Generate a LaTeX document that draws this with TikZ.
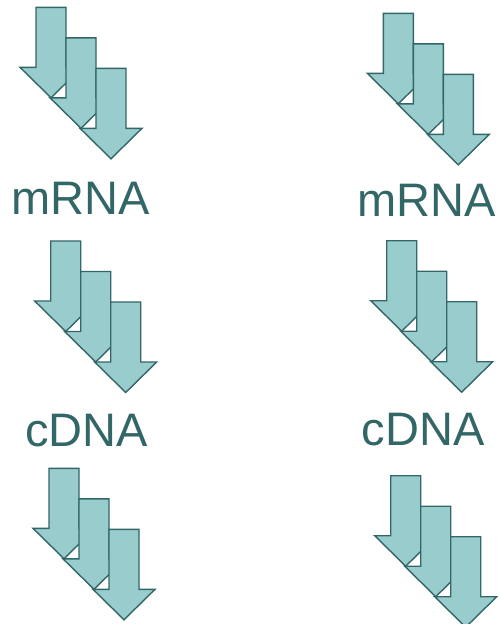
\documentclass[tikz,border=0pt]{standalone}
\usepackage{fontspec}
\setmainfont{Liberation Sans}
\definecolor{arrowfill}{RGB}{153,204,204}
\definecolor{arrowline}{RGB}{51,102,102}
\tikzset{
  downarrow/.style={fill=arrowfill, draw=arrowline, line width=1.4pt, line join=miter},
  label/.style={text=arrowline, font=\fontsize{47}{56}\selectfont, inner sep=0pt, anchor=base}
}
\newcommand{\arrowtrio}[2]{%
  \foreach \n in {0,1,2} {%
    \path[downarrow] ({#1+30*\n},{#2+30.5*\n}) -- ++(30,0) -- ++(0,60) -- ++(16,0)
      -- ++(-31,30.5) -- ++(-31,-30.5) -- ++(16,0) -- cycle;
  }%
}
\begin{document}
\begin{tikzpicture}[x=1pt,y=-1pt]
\clip (0,0) rectangle (499,624);
\fill[white] (0,0) rectangle (499,624);
\arrowtrio{36}{7.3}
\arrowtrio{383.3}{13.3}
\arrowtrio{50.7}{241}
\arrowtrio{386.7}{240.7}
\arrowtrio{49}{468.3}
\arrowtrio{390.7}{475.7}
\node[label] (mrnaL) at (80.5,214) {mRNA};
\node[label] (mrnaR) at (427,216.7) {mRNA};
\node[label] (cdnaL) at (86.5,446) {cDNA};
\node[label] (cdnaR) at (423,445) {cDNA};
\end{tikzpicture}
\end{document}
